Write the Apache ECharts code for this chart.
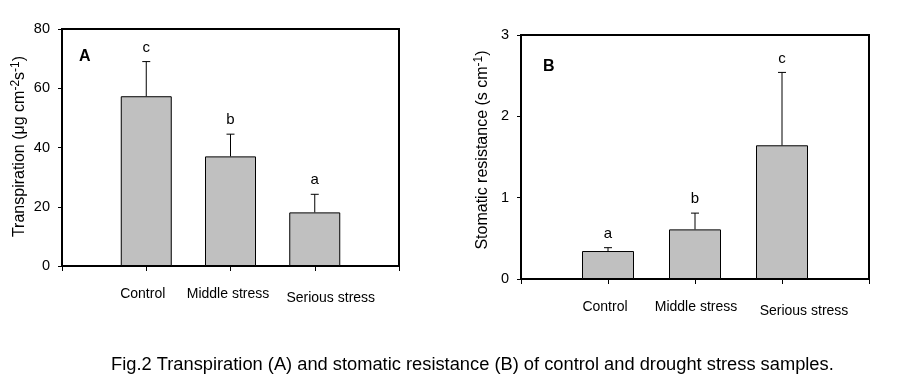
<!DOCTYPE html>
<html><head><meta charset="utf-8">
<script src="https://cdn.jsdelivr.net/npm/echarts@6/dist/echarts.min.js"></script>
<style>html,body{margin:0;padding:0;background:#fff}#c{width:899px;height:386px}</style>
</head><body><div id="c"></div>
<script>
const categories = ['Control', 'Middle stress', 'Serious stress'];
const catPositions = [1, 2, 3];
const transpiration = [57.3, 37.0, 18.1];
const transpirationErr = [11.7, 7.5, 6.1];
const transpirationLetters = ['c', 'b', 'a'];
const resistance = [0.344, 0.61, 1.644];
const resistanceErr = [0.041, 0.2, 0.896];
const resistanceLetters = ['a', 'b', 'c'];
const ticksA = [0, 20, 40, 60, 80];
const ticksB = [0, 1, 2, 3];

const FONT = 'Liberation Sans';
const chart = echarts.init(document.getElementById('c'), null, {renderer: 'canvas'});

function errRender(letters) {
  return function (params, api) {
    const x = api.value(0), v = api.value(1), e = api.value(2);
    const p0 = api.coord([x, v]);
    const p1 = api.coord([x, v + e]);
    return {type: 'group', children: [
      {type: 'line', shape: {x1: p0[0], y1: p0[1], x2: p1[0], y2: p1[1]}, style: {stroke: '#000', lineWidth: 1}},
      {type: 'line', shape: {x1: p1[0] - 4, y1: p1[1], x2: p1[0] + 4, y2: p1[1]}, style: {stroke: '#000', lineWidth: 1}},
      {type: 'text', style: {text: letters[params.dataIndex], x: p1[0], y: p1[1] - 14, align: 'center', verticalAlign: 'middle', font: '15px "' + FONT + '"', fill: '#000'}}
    ]};
  };
}

function xAxisFor(gridIndex, rich) {
  return {
    type: 'value', gridIndex, min: 0, max: 4, interval: 1,
    axisLine: {show: true, lineStyle: {color: '#000', width: 2}},
    axisTick: {show: true, inside: false, length: 5, lineStyle: {color: '#000', width: 1}},
    splitLine: {show: false},
    axisLabel: {
      margin: 21, color: '#000', fontFamily: FONT, fontSize: 14,
      formatter: function (v) {
        const i = catPositions.indexOf(v);
        return i < 0 ? '' : '{s' + i + '|' + categories[i] + '}';
      },
      rich
    }
  };
}

function yAxisFor(gridIndex, max, interval, name, nameGap, padding) {
  return {
    type: 'value', gridIndex, min: 0, max, interval,
    name, nameLocation: 'middle', nameGap, nameRotate: 90,
    nameTextStyle: {color: '#000', fontFamily: FONT, fontSize: 16, padding,
      rich: {sup: {fontSize: 12, verticalAlign: 'top', fontFamily: FONT, color: '#000', padding: [0, 0, 8, 0]}}},
    axisLine: {show: true, lineStyle: {color: '#000', width: 2}},
    axisTick: {show: true, inside: false, length: 4, lineStyle: {color: '#000', width: 1}},
    splitLine: {show: false},
    axisLabel: {margin: 12, color: '#000', fontFamily: FONT, fontSize: 14.5}
  };
}

const dataA = catPositions.map((x, i) => [x, transpiration[i]]);
const errA = catPositions.map((x, i) => [x, transpiration[i], transpirationErr[i]]);
const dataB = catPositions.map((x, i) => [x, resistance[i]]);
const errB = catPositions.map((x, i) => [x, resistance[i], resistanceErr[i]]);

chart.setOption({
  animation: false,
  backgroundColor: '#fff',
  title: [
    {text: 'A', left: 74, top: 44, textStyle: {fontFamily: FONT, fontSize: 16, fontWeight: 'bold', color: '#000'}},
    {text: 'B', left: 538, top: 54, textStyle: {fontFamily: FONT, fontSize: 16, fontWeight: 'bold', color: '#000'}},
    {text: 'Fig.2 Transpiration (A) and stomatic resistance (B) of control and drought stress samples.', left: 106, top: 351,
      textStyle: {fontFamily: FONT, fontSize: 18.3, fontWeight: 'normal', color: '#000'}}
  ],
  grid: [
    {left: 62, right: 500, top: 29, bottom: 120, show: true, borderColor: '#000', borderWidth: 2, backgroundColor: 'transparent'},
    {left: 521, right: 30, top: 35, bottom: 107, show: true, borderColor: '#000', borderWidth: 2, backgroundColor: 'transparent'}
  ],
  xAxis: [
    xAxisFor(0, {s0: {padding: [0, 7, 0, 0]}, s1: {padding: [0, 5, 0, 0]}, s2: {padding: [4, 0, 0, 32]}}),
    xAxisFor(1, {s0: {padding: [0, 6, 0, 0]}, s1: {padding: [0, 0, 0, 2]}, s2: {padding: [4, 0, 0, 44]}})
  ],
  yAxis: [
    yAxisFor(0, 80, 20, 'Transpiration (μg cm{sup|-2}s{sup|-1})', 32, [0, 0, 0, 2]),
    yAxisFor(1, 3, 1, 'Stomatic resistance (s cm{sup|-1})', 28, [0, 0, 0, 14])
  ],
  series: [
    {type: 'bar', xAxisIndex: 0, yAxisIndex: 0, data: dataA, barWidth: 51,
      itemStyle: {color: '#c0c0c0', borderColor: '#000', borderWidth: 1}},
    {type: 'custom', xAxisIndex: 0, yAxisIndex: 0, data: errA, renderItem: errRender(transpirationLetters), z: 3},
    {type: 'bar', xAxisIndex: 1, yAxisIndex: 1, data: dataB, barWidth: 52,
      itemStyle: {color: '#c0c0c0', borderColor: '#000', borderWidth: 1}},
    {type: 'custom', xAxisIndex: 1, yAxisIndex: 1, data: errB, renderItem: errRender(resistanceLetters), z: 3}
  ]
});
</script></body></html>
